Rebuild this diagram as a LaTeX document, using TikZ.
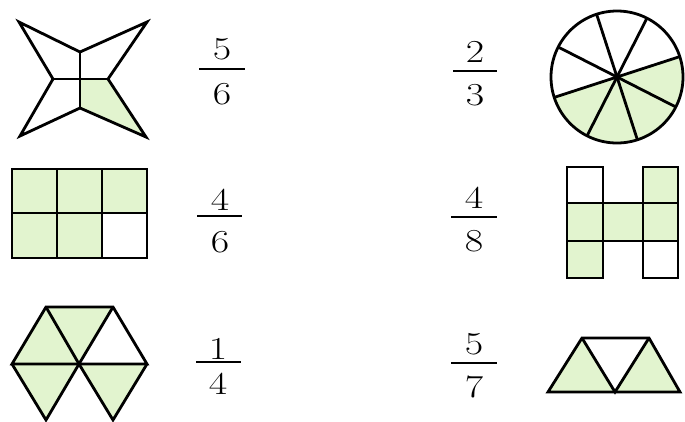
\documentclass[tikz,border=0pt]{standalone}
\usepackage{tikz}

\definecolor{leafgreen}{RGB}{226,244,207}
\newcommand{\wide}[1]{\scalebox{1.25}[1]{#1}}

\begin{document}
\begin{tikzpicture}[x=1pt,y=-1pt,
  part/.style={draw=black,line width=2.8pt},
  shaded/.style={fill=leafgreen},
  digit/.style={inner sep=0pt,font=\fontsize{32}{38}\selectfont},
  fracbar/.style={line width=2pt}]

\useasboundingbox (0,0) rectangle (685,421);

% ---------------------------
% star
% ---------------------------
\begin{scope}
  \coordinate (O)  at (80,79);
  \coordinate (TL) at (19,22);
  \coordinate (T)  at (80,52);
  \coordinate (TR) at (147,22);
  \coordinate (R)  at (108,79);
  \coordinate (BR) at (146,137);
  \coordinate (B)  at (80,108);
  \coordinate (BL) at (20,136);
  \coordinate (L)  at (53,79);

  \fill[shaded] (O)--(R)--(BR)--(B)--cycle;
  \draw[part] (TL)--(T)--(TR)--(R)--(BR)--(B)--(BL)--(L)--cycle;
  \draw[part] (L)--(R);
  \draw[part] (T)--(B);
\end{scope}

% ---------------------------
% circle
% ---------------------------
\begin{scope}[shift={(617,77)}]
  \coordinate (C) at (0,0);

  \fill[shaded] (C)--(-198:66) arc[start angle=-198,end angle=-378,radius=66]--cycle;
  \draw[part] (C) circle[radius=66];
  \foreach \a in {18,63,108,153,198,243,288,333}
    \draw[part] (C)--(-\a:66);
\end{scope}

% ---------------------------
% rectangle 3x2
% ---------------------------
\begin{scope}
  \coordinate (NW) at (12,169);
  \coordinate (SE) at (147,258);

  \fill[shaded] (NW) rectangle (147,213);
  \fill[shaded] (12,213) rectangle (102,258);
  \draw[part] (NW) rectangle (SE);
  \draw[part] (57,169)--(57,258);
  \draw[part] (102,169)--(102,258);
  \draw[part] (12,213)--(147,213);
\end{scope}

% ---------------------------
% H shape
% ---------------------------
\begin{scope}
  \fill[shaded] (643,167) rectangle (678,203);
  \fill[shaded] (567,203) rectangle (678,241);
  \fill[shaded] (567,241) rectangle (603,278);

  \draw[part] (567,167) rectangle (603,278);
  \draw[part] (643,167) rectangle (678,278);
  \draw[part] (567,203) rectangle (678,241);
\end{scope}

% ---------------------------
% triangles (hexagon)
% ---------------------------
\begin{scope}
  \coordinate (A)  at (46,307);
  \coordinate (Bt) at (113,307);
  \coordinate (Lm) at (12,364);
  \coordinate (O)  at (79,364);
  \coordinate (Rm) at (147,364);
  \coordinate (Bl) at (46,420);
  \coordinate (Br) at (113,420);

  \fill[shaded] (Lm)--(A)--(O)--cycle;
  \fill[shaded] (A)--(Bt)--(O)--cycle;
  \fill[shaded] (Lm)--(O)--(Bl)--cycle;
  \fill[shaded] (O)--(Rm)--(Br)--cycle;

  \draw[part] (O)--(Lm)--(A)--(Bt)--(Rm)--(O)--cycle;
  \draw[part] (A)--(O)--(Bt);
  \draw[part] (Lm)--(Bl)--(O)--(Br)--(Rm);
\end{scope}

% ---------------------------
% trapezoid
% ---------------------------
\begin{scope}
  \coordinate (P1) at (548,392);
  \coordinate (P2) at (582,338);
  \coordinate (P3) at (649,338);
  \coordinate (P4) at (680,392);
  \coordinate (M)  at (615,392);

  \fill[shaded] (P1)--(P2)--(M)--cycle;
  \fill[shaded] (M)--(P3)--(P4)--cycle;
  \draw[part] (P1)--(P2)--(P3)--(P4)--cycle;
  \draw[part] (P2)--(M)--(P3);
\end{scope}

% ---------------------------
% fractions
% ---------------------------
\node[digit] (n1) at (222,49)  {\wide{5}};
\node[digit] (d1) at (222,94)  {\wide{6}};
\draw[fracbar] (199,69) -- (245,69);

\node[digit] (n2) at (475,52)  {\wide{2}};
\node[digit] (d2) at (475,95)  {\wide{3}};
\draw[fracbar] (453,71) -- (497,71);

\node[digit] (n3) at (220,200) {\wide{4}};
\node[digit] (d3) at (220,242) {\wide{6}};
\draw[fracbar] (197,216) -- (242,216);

\node[digit] (n4) at (474,198) {\wide{4}};
\node[digit] (d4) at (474,241) {\wide{8}};
\draw[fracbar] (451,217) -- (497,217);

\node[digit] (n5) at (218,349) {\wide{1}};
\node[digit] (d5) at (218,384) {\wide{4}};
\draw[fracbar] (196,362) -- (241,362);

\node[digit] (n6) at (474,344) {\wide{5}};
\node[digit] (d6) at (474,387) {\wide{7}};
\draw[fracbar] (451,363) -- (497,363);

\end{tikzpicture}
\end{document}
